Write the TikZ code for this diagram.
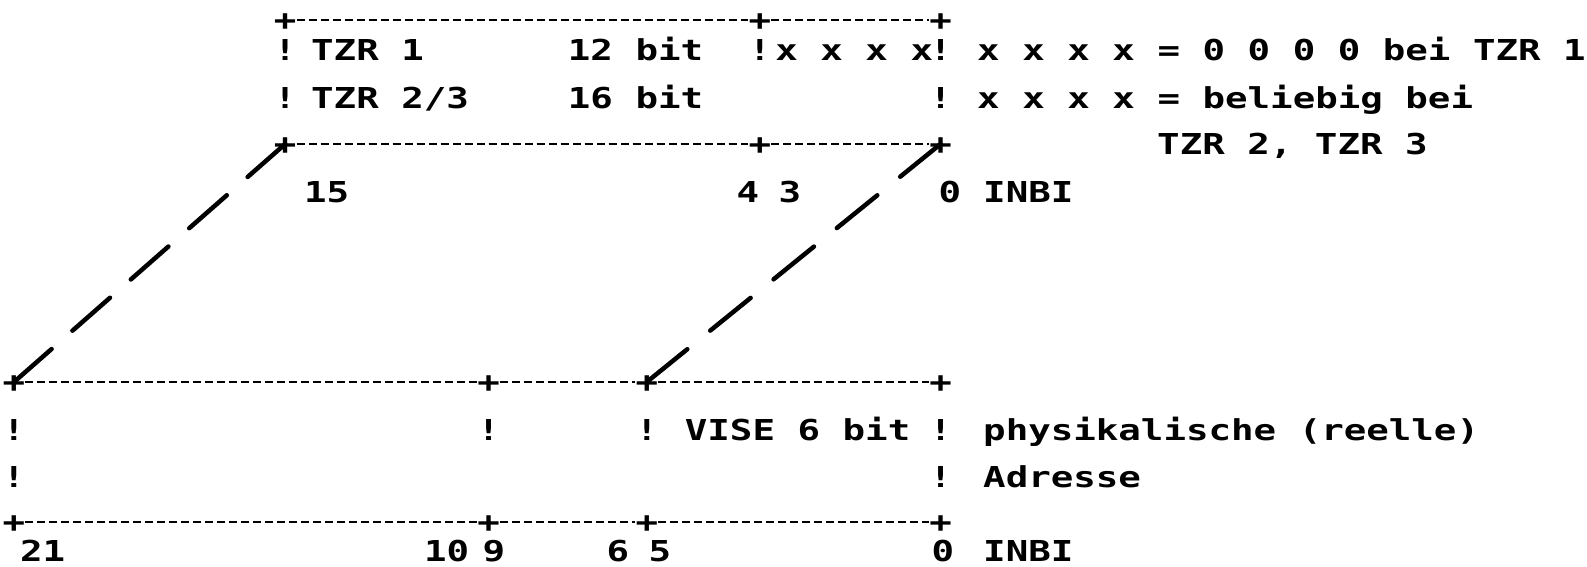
\documentclass[tikz,border=0pt]{standalone}
\usepackage{fontspec}
\newfontfamily\dm[FakeStretch=1.3]{DejaVu Sans Mono Bold}
\begin{document}
\begin{tikzpicture}[x=1pt,y=-1pt,
  t/.style={font=\dm\fontsize{28.8}{30}\selectfont, inner sep=0pt, text height=21pt, text depth=0pt},
  tw/.style={t, anchor=west},
  border/.style={line width=1.7pt, dash pattern=on 8pt off 4pt},
  diag/.style={line width=4.5pt, line cap=round}]
\useasboundingbox (0,0) rectangle (1587,567);
% column helpers: centre x = 14 + 22.6 c
\def\cx#1{\fpeval{14+22.6*#1}}
\def\lx#1{\fpeval{2.7+22.6*#1}}
% ---------- upper box ----------
\node[t] (a1) at (\cx{12},20) {+};
\node[t] (a2) at (\cx{33},20) {+};
\node[t] (a3) at (\cx{41},20) {+};
\node[t] (b1) at (\cx{12},144) {+};
\node[t] (b2) at (\cx{33},144) {+};
\node[t] (b3) at (\cx{41},144) {+};
\draw[border] (a1) -- (a2) -- (a3);
\draw[border] (b1) -- (b2) -- (b3);
% row 1
\node[t] (r1a) at (\cx{12},50) {!};
\node[tw] (r1b) at (311,50) {TZR 1};
\node[tw] (r1c) at (\lx{25},50) {12 bit};
\node[t] (r1d) at (\cx{33},50) {!};
\node[tw] (r1e) at (\lx{34}+4,50) {x x x x};
\node[t] (r1f) at (\cx{41},50) {!};
\node[tw] (r1g) at (977,50) {x x x x = 0 0 0 0 bei TZR 1};
% row 2
\node[t] (r2a) at (\cx{12},98) {!};
\node[tw] (r2b) at (311,98) {TZR 2/3};
\node[tw] (r2c) at (\lx{25},98) {16 bit};
\node[t] (r2f) at (\cx{41},98) {!};
\node[tw] (r2g) at (977,98) {x x x x = beliebig bei};
% row 3
\node[tw] (r3g) at (1157,144) {TZR 2, TZR 3};
% row 4
\node[tw] (n15) at (304,192) {15};
\node[t] (n4) at (748,192) {4};
\node[t] (n3) at (790,192) {3};
\node[t] (n0a) at (950,192) {0};
\node[tw] (inbi1) at (983,192) {INBI};
% ---------- lower box ----------
\node[t] (c1) at (\cx{0},382) {+};
\node[t] (c2) at (\cx{21},382) {+};
\node[t] (c3) at (\cx{28},382) {+};
\node[t] (c4) at (\cx{41},382) {+};
\node[t] (d1) at (\cx{0},522) {+};
\node[t] (d2) at (\cx{21},522) {+};
\node[t] (d3) at (\cx{28},522) {+};
\node[t] (d4) at (\cx{41},522) {+};
\draw[border] (c1) -- (c2) -- (c3) -- (c4);
\draw[border] (d1) -- (d2) -- (d3) -- (d4);
% row 9
\node[t] (r9a) at (\cx{0},430) {!};
\node[t] (r9b) at (\cx{21},430) {!};
\node[t] (r9c) at (\cx{28},430) {!};
\node[tw] (r9d) at (\lx{30}+4,430) {VISE 6 bit};
\node[t] (r9e) at (\cx{41},430) {!};
\node[tw] (r9f) at (983,430) {physikalische (reelle)};
% row 10
\node[t] (r10a) at (\cx{0},477) {!};
\node[t] (r10e) at (\cx{41},477) {!};
\node[tw] (r10f) at (983,477) {Adresse};
% row 12
\node[tw] (n21) at (20,551) {21};
\node[tw] (n10) at (424,551) {10};
\node[t] (n9) at (494,551) {9};
\node[t] (n6) at (618,551) {6};
\node[t] (n5) at (660,551) {5};
\node[t] (n0b) at (943,551) {0};
\node[tw] (inbi2) at (983,551) {INBI};
% ---------- dashed diagonals ----------
\draw[diag, dash pattern=on 50pt off 27.7pt] (b1.center) -- (c1.center);
\draw[diag, dash pattern=on 52pt off 29.5pt] (b3.center) -- (c3.center);
\end{tikzpicture}
\end{document}
